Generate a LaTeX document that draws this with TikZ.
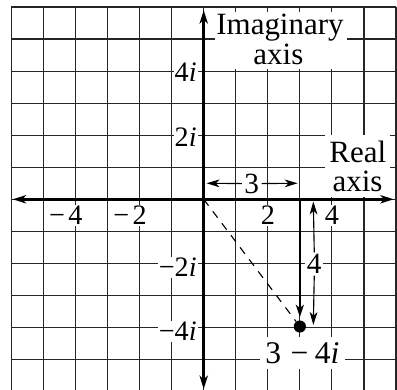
\documentclass[tikz,border=0pt]{standalone}
\usepackage{fontspec}
\setmainfont{Liberation Serif}
\usetikzlibrary{arrows.meta}
\begin{document}
\begin{tikzpicture}[x=1cm,y=1cm,
  gridline/.style={line width=1pt, black!85},
  bigtip/.tip={Stealth[length=0.42cm,width=0.26cm,inset=0.12cm]},
  smalltip/.tip={Stealth[length=0.4cm,width=0.24cm,inset=0.11cm]},
  axisline/.style={line width=2.2pt, bigtip-bigtip},
  thinarrow/.style={line width=1pt, -smalltip},
  biglabel/.style={font=\fontsize{27.5}{27}\selectfont, inner sep=0pt, anchor=base},
  lbl/.style={font=\fontsize{26}{26}\selectfont, fill=white, inner sep=1.5pt},
  ticklbl/.style={font=\fontsize{25}{25}\selectfont, fill=white, inner sep=1pt, anchor=base},
  ylbl/.style={font=\fontsize{25}{25}\selectfont, fill=white, inner sep=1pt, anchor=base east}
]
\useasboundingbox (-6.356,-5.95) rectangle (6.031,6.218);
% grid
\foreach \x in {-6,...,6} \draw[gridline] (\x,-5.95) -- (\x,6);
\foreach \y in {-5,...,6} \draw[gridline] (-6,\y) -- (6,\y);

% axis name labels
\fill[white] (0.35,4.07) rectangle (4.46,5.84);
\node[biglabel, text depth=0pt] (imag1) at (2.38,5.13) {Imaginary};
\node[biglabel, text height=0.45em] (imag2) at (2.33,4.2) {axis};
\fill[white] (3.79,0.08) rectangle (5.81,2.0);
\node[biglabel, text depth=0pt] (real1) at (4.81,1.14) {Real};
\node[biglabel, text height=0.45em] (real2) at (4.80,0.23) {axis};

% tick labels
\node[ticklbl] (tm4) at (-4,-0.8) {\llap{−\hspace{0.12em}}4};
\node[ticklbl] (tm2) at (-2,-0.8) {\llap{−\hspace{0.12em}}2};
\node[ticklbl] (tp2) at (2,-0.8) {2};
\node[ticklbl] (tp4) at (4,-0.8) {4};
\node[ylbl] (y4) at (-0.18,3.66) {4\textit{i}};
\node[ylbl] (y2) at (-0.18,1.65) {2\textit{i}};
\node[ylbl] (ym2) at (-0.18,-2.41) {−2\textit{i}};
\node[ylbl] (ym4) at (-0.18,-4.41) {−4\textit{i}};

% axes
\coordinate (xl) at (-5.96,0);
\coordinate (xr) at (5.93,0);
\coordinate (yb) at (0,-5.92);
\coordinate (yt) at (0,5.9);
\coordinate (o) at (0,0);
\draw[axisline] (xl) -- (xr);
\draw[axisline] (yb) -- (yt);

% point
\node[circle, fill=black, inner sep=0pt, minimum size=0.38cm] (z) at (3,-3.97) {};
\draw[line width=1pt, dash pattern=on 0.25cm off 0.22cm] (o) -- (z);
\coordinate (a3) at (3,0);
\draw[line width=2.2pt, -{Stealth[length=0.38cm,width=0.25cm,inset=0.1cm]}, shorten >=0.1cm] (a3) -- (z.north);

% 3 arrow
\node[lbl, inner xsep=2pt] (three) at (1.5,0.49) {3};
\coordinate (h1) at (0.09,0.5);
\coordinate (h2) at (2.93,0.5);
\draw[thinarrow] (three.west) -- (h1);
\draw[thinarrow] (three.east) -- (h2);

% 4 arrow
\node[lbl, inner sep=1.5pt] (four) at (3.45,-2.02) {4};
\coordinate (v1) at (3.42,-0.07);
\coordinate (v2) at (3.42,-3.92);
\draw[thinarrow] (four.north) -- (v1);
\draw[thinarrow] (four.south) -- (v2);

% point label
\node[font=\fontsize{28}{28}\selectfont, fill=white, inner sep=0pt, minimum width=2.65cm, minimum height=0.98cm] (zl) at (3.08,-4.79) {3\hspace{0.3em}−\hspace{0.2em}4\textit{i}};
\end{tikzpicture}
\end{document}
